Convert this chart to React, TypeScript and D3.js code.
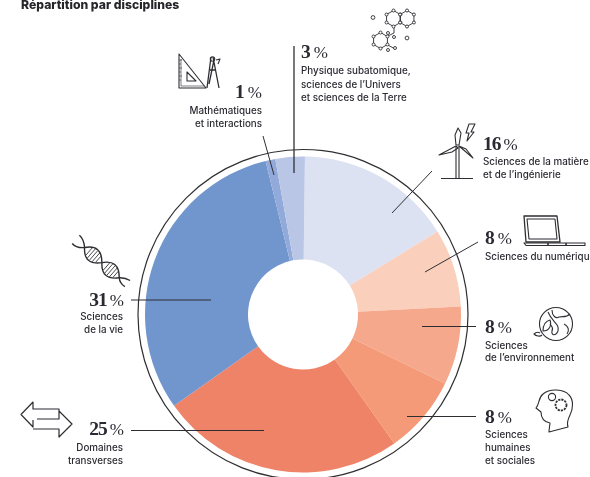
import React from "react";
import * as d3 from "d3";

const disciplines = ["matiere", "numerique", "environnement", "humaines", "transverses", "vie", "maths", "physique"];
const shares = [16, 8, 8, 8, 25, 31, 1, 3];
const sliceColors = ["#dde2f2", "#facfbc", "#f6a88c", "#f49a78", "#ef8368", "#7195cd", "#92aad9", "#b9c6e6"];

const WIDTH = 590, HEIGHT = 477;
const CX = 303, CY = 314.5;
const SANS = "Inter, 'Open Sans', sans-serif";
const SERIF = "'Liberation Serif', serif";
const INK = "#2f2f33";

type Note = {
  pct: string; x: number; y: number; anchor: "start" | "end";
  lines: string[]; lineY: number[]; leader: [number, number, number, number];
};

const notes: Note[] = [
  { pct: "16", x: 483, y: 150, anchor: "start", lines: ["Sciences de la matière", "et de l’ingénierie"], lineY: [165, 178], leader: [432, 171, 392, 213] },
  { pct: "8", x: 485, y: 244, anchor: "start", lines: ["Sciences du numérique"], lineY: [260], leader: [478, 242, 425, 272] },
  { pct: "8", x: 485, y: 333, anchor: "start", lines: ["Sciences", "de l’environnement"], lineY: [349, 361], leader: [476, 326.5, 422, 326.5] },
  { pct: "8", x: 485, y: 423, anchor: "start", lines: ["Sciences", "humaines", "et sociales"], lineY: [438, 451, 464], leader: [476, 416.5, 407, 416.5] },
  { pct: "25", x: 123, y: 435, anchor: "end", lines: ["Domaines", "transverses"], lineY: [451, 464], leader: [131, 430.5, 264, 430.5] },
  { pct: "31", x: 123, y: 306, anchor: "end", lines: ["Sciences", "de la vie"], lineY: [320, 333], leader: [131, 300, 211, 300] },
  { pct: "1", x: 262, y: 98, anchor: "end", lines: ["Mathématiques", "et interactions"], lineY: [114, 127], leader: [263, 136, 274, 175] },
  { pct: "3", x: 301, y: 58, anchor: "start", lines: ["Physique subatomique,", "sciences de l’Univers", "et sciences de la Terre"], lineY: [74, 88, 101], leader: [294, 46, 294, 173] },
];

const hexagon = (cx: number, cy: number, r: number) =>
  d3.range(6).map((i) => {
    const a = (Math.PI / 3) * i + Math.PI / 6;
    return [cx + r * Math.cos(a), cy + r * Math.sin(a)] as [number, number];
  });

const rings = [[393.5, 18.5], [407, 18.5], [380.5, 40.5]];
const extraNodes = [[388, 33], [394, 37], [395, 48], [388, 50]];

function Molecule() {
  return (
    <g fill="#fff" stroke={INK} strokeWidth={0.9}>
      <path d="M394,27L394,33L388,36M388,45L395,49" fill="none" />
      {rings.map(([x, y], i) => (
        <g key={i}>
          <path d={"M" + hexagon(x, y, 8).map((p) => p.join(",")).join("L") + "Z"} fill="none" />
          {hexagon(x, y, 8).map((p, j) => <circle key={j} cx={p[0]} cy={p[1]} r={1.5} />)}
        </g>
      ))}
      {extraNodes.map(([x, y], i) => <circle key={i} cx={x} cy={y} r={1.5} />)}
      <circle cx={373} cy={17.5} r={1.9} />
      <circle cx={407} cy={38} r={1.9} />
    </g>
  );
}

function Icons() {
  const s = { fill: "none", stroke: INK, strokeWidth: 1.1, strokeLinejoin: "round" as const };
  return (
    <g>
      <g {...s}>
        <path d="M179,54V88H206L179,54Z" />
        <path d="M181,59V86H204" strokeWidth={0.6} />
        <path d="M187,72V81H196Z" />
        <path d="M179,60h3M179,64h2M179,68h3M179,72h2M179,76h3M179,80h2" strokeWidth={0.6} />
        <path d="M211,57L207,88M213,57L219,88M214,60L209,84M210,70L216,70" strokeWidth={1.3} />
        <circle cx={212.5} cy={59} r={2.2} />
        <path d="M216,60L220,59L218,64" />
      </g>
      <Molecule />
      <g {...s}>
        <path d="M456,146V178M459,146V178M441,178.5H473" />
        <path d="M456,145L455,135L458,128L461,133L459,145Z" />
        <path d="M456,146L439,155L452,152L458,148Z" />
        <path d="M459,146L473,158L466,149Z" />
        <path d="M469,124H475L471,132H474L467,141L469,133H466Z" />
      </g>
      <g {...s}>
        <path d="M524,216H557L560,242H526Z" strokeWidth={1.3} />
        <path d="M527,219H555L557,239H529Z" />
        <path d="M524,243H585V245.5H526Z" />
        <path d="M548,243V245M566,243V245" strokeWidth={1.6} />
      </g>
      <g {...s}>
        <circle cx={556} cy={324} r={16.5} />
        <path d="M552,310C552,316 556,319 559,317C563,316 566,318 570,314M548,312C552,322 560,324 558,331C556,336 551,336 552,331C554,327 551,326 550,324" />
        <path d="M543,331C543,325 546,321 550,320C552,326 549,331 543,331ZM540,333C537,331 535,333 534,334C536,336 540,337 542,335" />
        <path d="M564,324C568,326 570,330 567,334" />
      </g>
      <g {...s}>
        <path d="M549,431L550,423C544,422 541,418 541,412L536,408C540,403 538,398 543,394C550,388 564,389 569,395C574,400 573,409 570,415C568,419 567,424 568,427L549,432Z" />
        <circle cx={552} cy={397} r={3.6} />
        <circle cx={561} cy={405} r={5.5} strokeDasharray="2.2 1" strokeWidth={1.8} />
      </g>
      <g {...s} transform="translate(77,241) rotate(41)">
        <path d="M-2,-6Q4,-6 10,0Q21,14 33,0Q44,-14 56,0Q60,4 66,3" strokeWidth={1.4} />
        <path d="M-2,5Q4,6 10,0Q21,-14 33,0Q44,14 56,0Q60,-4 66,-5" strokeWidth={1.4} />
        <path d="M16,-5V5M19,-6V6M22,-6V6M25,-6V6M28,-4V4M39,-5V5M42,-6V6M45,-6V6M48,-6V6M51,-4V4" strokeWidth={0.8} />
      </g>
      <g {...s} strokeWidth={1.2}>
        <path d="M59,414V409H33V402L21,414.5L33,427V420M37,419H59V411L72,424L59,437V429H33" />
      </g>
    </g>
  );
}

export default function App() {
  const pie = d3.pie<number>().value((d) => d).sort(null)
    .startAngle((0.7 * Math.PI) / 180).endAngle((360.7 * Math.PI) / 180);
  const arc = d3.arc<d3.PieArcDatum<number>>().innerRadius(55).outerRadius(158);
  const slices = pie(shares);
  return (
    <svg width={WIDTH} height={HEIGHT} viewBox={`0 0 ${WIDTH} ${HEIGHT}`}
      style={{ position: "absolute", left: 0, top: 0, background: "#fff", display: "block" }}>
      <defs>
        <filter id="soft" x="-5%" y="-5%" width="110%" height="110%">
          <feGaussianBlur stdDeviation="0.35" />
        </filter>
      </defs>
      <g filter="url(#soft)">
        <text x={21} y={8.5} fontFamily={SANS} fontWeight={800} fontSize={12.2} fill="#25252b">Répartition par disciplines</text>
        <g transform={`translate(${CX},${CY})`}>
          {slices.map((d, i) => (
            <path key={disciplines[i]} d={arc(d) ?? ""} fill={sliceColors[i]} />
          ))}
          <circle r={165} fill="none" stroke={INK} strokeWidth={1.2} />
        </g>
        {notes.map((n, i) => (
          <g key={i}>
            <line x1={n.leader[0]} y1={n.leader[1]} x2={n.leader[2]} y2={n.leader[3]} stroke={INK} strokeWidth={i === 7 ? 1.3 : 1} />
            <text x={n.x} y={n.y} textAnchor={n.anchor} fontFamily={SERIF} fontWeight={700} fontSize={19.5} letterSpacing={n.pct.length > 1 ? -1 : 0} fill="#2b2b33">
              {n.pct}
              <tspan fontWeight={400} fontSize={17} dx={3}>%</tspan>
            </text>
            {n.lines.map((l, j) => (
              <text key={j} x={n.x} y={n.lineY[j]} textAnchor={n.anchor} fontFamily={SANS} fontWeight={500} fontSize={9.8} fill="#2b2b33">{l}</text>
            ))}
          </g>
        ))}
        <Icons />
      </g>
    </svg>
  );
}
